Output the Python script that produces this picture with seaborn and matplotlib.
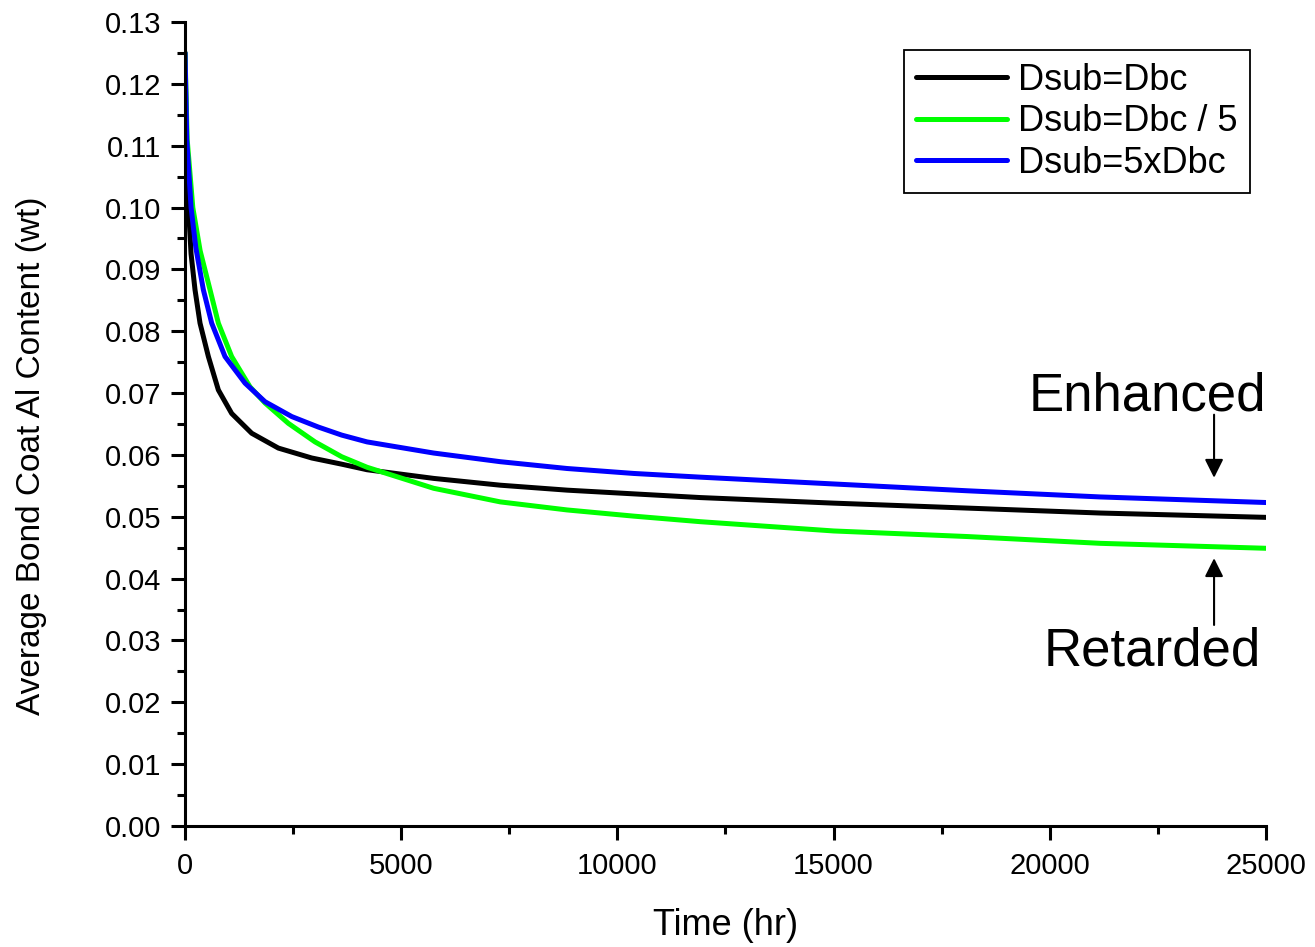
import matplotlib
matplotlib.use("Agg")
import matplotlib.pyplot as plt
from matplotlib.ticker import MultipleLocator, FormatStrFormatter
import seaborn as sns
import pandas as pd

# ---- data ----
t_black = [0, 30, 80, 140, 231, 347, 540, 771, 1079, 1542, 2159, 2930, 3624,
           4210, 5750, 7293, 8836, 10376, 11919, 15003, 18087, 21171, 25000]
y_black = [0.125, 0.110, 0.100, 0.0925, 0.0867, 0.0813, 0.0759, 0.0705, 0.0667,
           0.0635, 0.0611, 0.0595, 0.0585, 0.0576, 0.0562, 0.0551, 0.0543,
           0.0537, 0.0531, 0.0522, 0.0514, 0.0506, 0.0499]

t_green = [0, 50, 180, 350, 578, 771, 1079, 1503, 1850, 2390, 3007, 3624, 4210,
           5750, 7293, 8836, 10376, 11919, 15003, 18087, 21171, 25000]
y_green = [0.125, 0.111, 0.100, 0.0930, 0.0867, 0.0813, 0.0759, 0.0710, 0.0684,
           0.0651, 0.0621, 0.0597, 0.0580, 0.0546, 0.0524, 0.0511, 0.0501,
           0.0492, 0.0477, 0.0468, 0.0457, 0.0449]

t_blue = [0, 40, 140, 250, 424, 617, 925, 1388, 1850, 2468, 3084, 3624, 4210,
          5750, 7293, 8836, 10376, 11919, 15003, 18087, 21171, 25000]
y_blue = [0.125, 0.111, 0.100, 0.0935, 0.0867, 0.0813, 0.0759, 0.0716, 0.0686,
          0.0662, 0.0645, 0.0632, 0.0621, 0.0603, 0.0589, 0.0578, 0.0570,
          0.0564, 0.0553, 0.0542, 0.0532, 0.0523]

series_names = ["Dsub=Dbc", "Dsub=Dbc / 5", "Dsub=5xDbc"]
series_colors = ["#000000", "#00FF00", "#0000FF"]

x_ticks = [0, 5000, 10000, 15000, 20000, 25000]
y_ticks = [0.00, 0.01, 0.02, 0.03, 0.04, 0.05, 0.06, 0.07, 0.08, 0.09, 0.10,
           0.11, 0.12, 0.13]

frames = []
for name, t, y in zip(series_names, [t_black, t_green, t_blue],
                      [y_black, y_green, y_blue]):
    frames.append(pd.DataFrame({"Time": t, "Al": y, "Case": name}))
df = pd.concat(frames, ignore_index=True)

sns.set_style("ticks")
plt.rcParams["font.family"] = ["Liberation Sans", "DejaVu Sans"]
plt.rcParams["text.color"] = "black"
plt.rcParams["axes.labelcolor"] = "black"
plt.rcParams["xtick.color"] = "black"
plt.rcParams["ytick.color"] = "black"

fig = plt.figure(figsize=(13.15, 9.47), dpi=100)
ax = fig.add_axes([0.1407, 0.1278, 0.822, 0.849])

sns.lineplot(data=df, x="Time", y="Al", hue="Case", hue_order=series_names,
             palette=series_colors, estimator=None, sort=False, lw=3.6, ax=ax)

ax.set_xlim(0, 25000)
ax.set_ylim(0, 0.13)
ax.set_xticks(x_ticks)
ax.set_yticks(y_ticks)
ax.xaxis.set_minor_locator(MultipleLocator(2500))
ax.yaxis.set_minor_locator(MultipleLocator(0.005))
ax.yaxis.set_major_formatter(FormatStrFormatter("%.2f"))

for s in ["top", "right"]:
    ax.spines[s].set_visible(False)
for s in ["left", "bottom"]:
    ax.spines[s].set_linewidth(2.2)
    ax.spines[s].set_color("black")

ax.tick_params(axis="both", which="major", direction="out", length=10,
               width=2.2, labelsize=21, colors="black", labelcolor="black")
ax.tick_params(axis="both", which="minor", direction="out", length=6,
               width=2.2, colors="black")
ax.tick_params(axis="x", which="major", pad=9)
ax.tick_params(axis="y", which="major", pad=7)

ax.set_xlabel("Time (hr)", fontsize=26, labelpad=20, color="black")
ax.set_ylabel("Average Bond Coat Al Content (wt)", fontsize=24, color="black")
ax.yaxis.set_label_coords(-0.1277, 0.461)

leg = ax.legend(loc="upper right", bbox_to_anchor=(0.985, 0.965),
                borderaxespad=0, fontsize=26, frameon=True, fancybox=False,
                handlelength=2.5, handletextpad=0.3, labelspacing=0.18,
                borderpad=0.35, title=None)
leg.get_frame().set_edgecolor("black")
leg.get_frame().set_linewidth(1.3)
leg.get_frame().set_alpha(1)
for line in leg.get_lines():
    line.set_linewidth(3.6)
for txt in leg.get_texts():
    txt.set_color("black")

# annotations
ax.text(22250, 0.0695, "Enhanced", fontsize=38, ha="center", va="center",
        color="black")
ax.annotate("", xy=(23800, 0.0563), xytext=(23800, 0.0665),
            arrowprops=dict(arrowstyle="-|>", color="black", lw=1.5,
                            mutation_scale=28, shrinkA=0, shrinkB=0))
ax.text(22370, 0.0282, "Retarded", fontsize=38, ha="center", va="center",
        color="black")
ax.annotate("", xy=(23800, 0.0433), xytext=(23800, 0.0325),
            arrowprops=dict(arrowstyle="-|>", color="black", lw=1.5,
                            mutation_scale=28, shrinkA=0, shrinkB=0))

fig.savefig("out.png", dpi=100)
